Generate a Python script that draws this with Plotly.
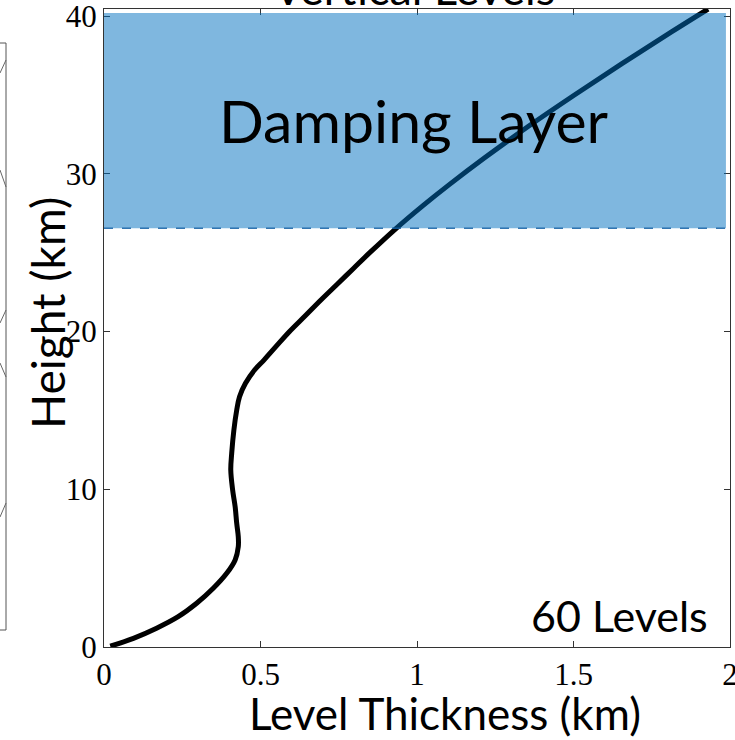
import plotly.graph_objects as go

# Data (level thickness in km vs height in km)
thickness_km = [0.02, 0.094, 0.168, 0.237, 0.296, 0.349, 0.392, 0.419, 0.429, 0.429,
                0.424, 0.419, 0.411, 0.405, 0.408, 0.415, 0.424, 0.433, 0.452, 0.481,
                0.511, 0.549, 0.592, 0.643, 0.693, 0.745, 0.797, 0.849, 0.931, 1.020,
                1.102, 1.215, 1.355, 1.503, 1.656, 1.813, 1.930]
height_km = [0.05, 0.55, 1.19, 1.92, 2.77, 3.72, 4.67, 5.52, 6.36, 6.99,
             7.84, 8.89, 9.95, 11.22, 12.28, 13.76, 15.02, 15.87, 16.72, 17.56,
             18.19, 19.04, 19.99, 21.0, 22.0, 23.0, 24.0, 25.0, 26.5, 28.0,
             29.3, 31.0, 33.0, 35.0, 37.0, 39.0, 40.45]

damping_bottom = 26.55
damping_top = 40.2
damping_right = 1.987

x_tickvals = [0, 0.5, 1, 1.5, 2]
x_ticktext = ["0", "0.5", "1", "1.5", "2"]
y_tickvals = [0, 10, 20, 30, 40]
y_ticktext = ["0", "10", "20", "30", "40"]

W, H = 735, 740
L, R, T, B = 104, 5, 9, 93
PW, PH = W - L - R, H - T - B


def px(xp):
    return (xp - L) / PW


def py(yp):
    return (H - B - yp) / PH


SANS = "Lato, 'Open Sans', sans-serif"
SERIF = "'Liberation Serif', 'Times New Roman', serif"

fig = go.Figure()
fig.add_trace(go.Scatter(
    x=thickness_km, y=height_km, mode="lines",
    line=dict(color="black", width=5, shape="spline", smoothing=1.0),
    showlegend=False, hoverinfo="skip",
))

# Damping layer (translucent blue on top of the curve)
fig.add_shape(type="rect", xref="x", yref="y", x0=0, x1=damping_right,
              y0=damping_bottom, y1=damping_top,
              fillcolor="rgb(0,112,192)", opacity=0.5, line=dict(width=0), layer="above")
fig.add_shape(type="line", xref="x", yref="y", x0=0, x1=2,
              y0=damping_bottom, y1=damping_bottom,
              line=dict(color="rgba(20,95,165,0.85)", width=1.5, dash="dash"), layer="above")

# Left edge of neighbouring panel (decorative)
fig.add_shape(type="rect", xref="paper", yref="paper", x0=px(-20), x1=px(6),
              y0=py(630), y1=py(43), line=dict(color="#555", width=1), layer="above")
for (ya, yb) in [(73, 60), (170, 187), (323, 310), (363, 377), (517, 503)]:
    fig.add_shape(type="line", xref="paper", yref="paper", x0=px(0), x1=px(6),
                  y0=py(ya), y1=py(yb), line=dict(color="#666", width=1), layer="above")

annotations = [
    dict(text="Damping Layer", x=0.99, y=33.4, xref="x", yref="y",
         xanchor="center", yanchor="middle",
         showarrow=False, font=dict(family=SANS, size=59, color="black")),
    dict(text="60 Levels", x=1.935, y=2.0, xref="x", yref="y",
         xanchor="right", yanchor="middle",
         showarrow=False, font=dict(family=SANS, size=43, color="black")),
    dict(text="Level Thickness (km)", x=px(445), y=py(713), xref="paper", yref="paper",
         xanchor="center", yanchor="middle",
         showarrow=False, font=dict(family=SANS, size=44, color="black")),
    dict(text="Height (km)", x=px(47), y=py(313), xref="paper", yref="paper",
         xanchor="center", yanchor="middle",
         textangle=-90, showarrow=False, font=dict(family=SANS, size=46, color="black")),
    dict(text="Vertical Levels", x=px(414), y=py(17), xref="paper", yref="paper",
         xanchor="center", yanchor="bottom",
         showarrow=False, font=dict(family=SANS, size=45, color="black")),
]

axis_common = dict(showline=True, linecolor="#333", linewidth=1, mirror="ticks",
                   ticks="inside", ticklen=6, tickcolor="#333", showgrid=False,
                   zeroline=False, ticklabeloverflow="allow", automargin=False,
                   tickfont=dict(family=SERIF, size=31, color="black"))

fig.update_layout(
    width=W, height=H, margin=dict(l=L, r=R, t=T, b=B, autoexpand=False),
    paper_bgcolor="white", plot_bgcolor="white",
    xaxis=dict(range=[0, 2], tickvals=x_tickvals, ticktext=x_ticktext, **axis_common),
    yaxis=dict(range=[0, 40.45], tickvals=y_tickvals, ticktext=y_ticktext, **axis_common),
    annotations=annotations,
)

fig.write_html("out.html")
